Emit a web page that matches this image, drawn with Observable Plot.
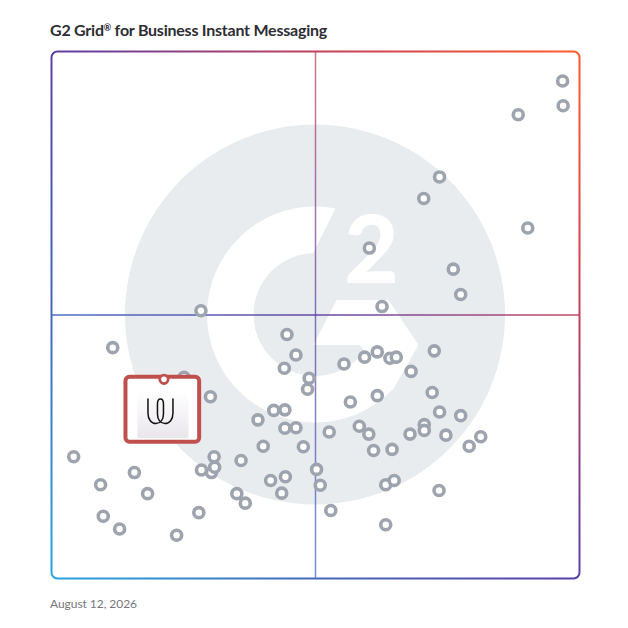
<!DOCTYPE html>
<html>
<head>
<meta charset="utf-8">
<script src="https://cdn.jsdelivr.net/npm/d3@7"></script>
<script src="https://cdn.jsdelivr.net/npm/@observablehq/plot@0.6"></script>
<style>
html, body { margin: 0; padding: 0; background: #fff; }
#wrap { position: relative; width: 628px; height: 628px; overflow: hidden; font-family: Lato, Inter, "Open Sans", sans-serif; }
#title { position: absolute; left: 50px; top: 17px; font-size: 16px; font-weight: 700; color: #2d2d33; line-height: 22px; white-space: nowrap; }
#title .reg { font-size: 9px; vertical-align: 5px; }
#chart { position: absolute; left: 0; top: 40px; }
#date { position: absolute; left: 50px; top: 596px; font-size: 12px; color: #76767b; line-height: 16px; white-space: nowrap; }
</style>
</head>
<body>
<div id="wrap">
  <div id="title"><span id="titleText">G2 Grid<span class="reg">®</span> for Business Instant Messaging</span></div>
  <div id="chart"></div>
  <div id="date"><span id="dateText">August 12, 2026</span></div>
</div>
<script>
// ---- data (Satisfaction = x, Market Presence = y, both 0–100) ----
const satisfaction = [
  96.8, 96.9, 88.4, 73.5, 70.5, 90.2, 60.2, 76.1, 77.5, 62.6,
  28.3, 44.6, 11.6, 46.3, 44.1, 48.8, 48.5, 25.1, 30.1, 55.4,
  42.1, 44.2, 39.1, 44.2, 46.3, 52.6, 40.1, 47.7, 4.2, 30.8,
  35.9, 28.4, 30.3, 30.9, 15.7, 9.3, 18.2, 41.5, 44.3, 43.6,
  50.2, 50.9, 35.1, 36.7, 27.9, 52.9, 9.8, 12.9, 23.7, 59.3,
  61.7, 64.1, 65.3, 72.5, 68.1, 61.7, 72.1, 56.6, 58.3, 60.1,
  73.5, 77.5, 67.9, 70.6, 70.6, 74.7, 81.3, 79.1, 61.0, 64.5,
  63.3, 64.9, 73.4, 63.3
];
const marketPresence = [
  94.4, 89.7, 88.0, 76.2, 72.1, 66.5, 62.7, 58.7, 53.9, 51.6,
  50.8, 46.3, 43.8, 42.4, 39.9, 38.0, 35.9, 38.2, 34.5, 40.7,
  31.9, 32.0, 30.1, 28.5, 28.6, 27.8, 25.1, 25.0, 23.1, 23.1,
  22.4, 20.6, 20.1, 21.1, 20.1, 17.8, 16.1, 18.6, 19.3, 16.2,
  20.7, 17.7, 16.1, 14.3, 12.5, 12.9, 11.8, 9.4, 8.2, 42.0,
  43.0, 41.8, 42.0, 43.2, 39.3, 34.7, 35.3, 33.5, 28.9, 27.4,
  31.6, 30.9, 27.4, 29.2, 28.1, 27.2, 26.9, 25.1, 24.3, 24.5,
  17.8, 18.6, 16.7, 10.2
];
const highlightName = ["Wire"];
const highlightSatisfaction = [21.3];
const highlightPresence = [37.8];
const quadrantSplit = [50];

const points = satisfaction.map((s, i) => ({satisfaction: s, presence: marketPresence[i]}));
const highlight = highlightName.map((n, i) => ({name: n, satisfaction: highlightSatisfaction[i], presence: highlightPresence[i]}));

const LOGO_GRAY = "#e9ecef";
const RED = "#c0504e";

// Background G2 emblem + frame gradient, positioned through Plot's scales
function emblem(index, scales) {
  const cx = scales.x(50), cy = scales.y(50);
  const g = d3.create("svg:g");
  const defs = g.append("defs");
  const lg = defs.append("linearGradient").attr("id", "g2grad").attr("gradientUnits", "userSpaceOnUse")
    .attr("x1", scales.x(0)).attr("y1", scales.y(0)).attr("x2", scales.x(100)).attr("y2", scales.y(100));
  [[0, "#27a5df"], [0.25, "#4468bd"], [0.5, "#5b3fa6"], [0.75, "#c2405c"], [1, "#ff5a28"]]
    .forEach(([o, c]) => lg.append("stop").attr("offset", o).attr("stop-color", c));
  const tg = defs.append("linearGradient").attr("id", "tilegrad").attr("x1", 0).attr("y1", 0).attr("x2", 0).attr("y2", 1);
  tg.append("stop").attr("offset", 0).attr("stop-color", "#ffffff");
  tg.append("stop").attr("offset", 1).attr("stop-color", "#e9e6ec");

  const e = g.append("g").attr("transform", `translate(${cx},${cy})`);
  e.append("circle").attr("r", 190).attr("fill", LOGO_GRAY);
  e.append("circle").attr("r", 108).attr("fill", "#fff");
  e.append("circle").attr("r", 61.5).attr("fill", LOGO_GRAY);
  const poly = pts => "M" + pts.map(p => p.join(",")).join("L") + "Z";
  e.append("path").attr("fill", LOGO_GRAY)
    .attr("d", poly([[-1.7, -61.5], [33.4, -132], [120, -120], [135, 0], [120, 100], [77.7, 75.5], [103.3, 30.5], [73.3, -14.5], [21.7, -14.5]]));
  e.append("path").attr("fill", "#fff")
    .attr("d", poly([[21.7, -14.5], [73.3, -14.5], [103.3, 30.5], [77.7, 75.5], [45, 30.5], [-1.7, 30.5]]));
  e.append("text").attr("x", 56.5).attr("y", -32).attr("text-anchor", "middle")
    .attr("font-family", "Lato, Inter, sans-serif").attr("font-weight", 900).attr("font-size", 94)
    .attr("fill", "#fff").text("2");
  return g.node();
}

function highlightBox(index, scales) {
  const g = d3.create("svg:g");
  for (const h of highlight) {
    const px = scales.x(h.satisfaction), py = scales.y(h.presence);
    g.append("rect").attr("x", px - 38).attr("y", py - 2).attr("width", 73.7).attr("height", 65)
      .attr("rx", 4).attr("fill", "#fff").attr("stroke", RED).attr("stroke-width", 4);
    g.append("rect").attr("x", px - 26).attr("y", py + 12.7).attr("width", 51).attr("height", 46.6)
      .attr("fill", "url(#tilegrad)");
    g.append("path").attr("transform", `translate(${px - 16},${py + 20.3})`)
      .attr("fill", "none").attr("stroke", "#111").attr("stroke-width", 1.5).attr("stroke-linecap", "round")
      .attr("d", "M0.5,0 V14 C0.5,20.5 4,24.5 8.5,24.5 C13,24.5 16,20.5 16,15 V5 C16,2 14.6,0 13,0 C11.4,0 10,2 10,5 V15 C10,20.5 13,24.5 17.5,24.5 C22,24.5 25.5,20.5 25.5,14 V0")
      .append("title").text(h.name);
  }
  return g.node();
}

const chart = Plot.plot({
  width: 628,
  height: 550,
  marginTop: 11,
  marginBottom: 12,
  marginLeft: 51,
  marginRight: 49,
  x: {domain: [0, 100], axis: null},
  y: {domain: [0, 100], axis: null},
  style: {background: "transparent", overflow: "visible"},
  marks: [
    emblem,
    Plot.ruleX(quadrantSplit, {stroke: "url(#g2grad)", strokeWidth: 1.5, strokeOpacity: 0.72}),
    Plot.ruleY(quadrantSplit, {stroke: "url(#g2grad)", strokeWidth: 1.5, strokeOpacity: 0.95}),
    Plot.frame({stroke: "url(#g2grad)", strokeWidth: 2, rx: 6}),
    Plot.dot(points, {x: "satisfaction", y: "presence", r: 5, fill: "#fff", stroke: "#9ea4ae", strokeWidth: 3.6}),
    highlightBox,
    Plot.dot(highlight, {x: "satisfaction", y: "presence", r: 4.2, fill: "#fff", stroke: RED, strokeWidth: 2.8})
  ]
});
document.getElementById("chart").appendChild(chart);

// fit text widths to the reference layout
function fit(id, target) {
  const el = document.getElementById(id);
  const n = el.textContent.length;
  const w = el.getBoundingClientRect().width;
  el.style.letterSpacing = ((target - w) / n).toFixed(3) + "px";
}
fit("titleText", 277);
fit("dateText", 87);
</script>
</body>
</html>
